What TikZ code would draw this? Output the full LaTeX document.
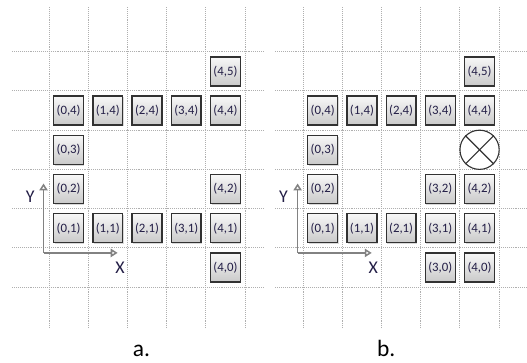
\documentclass[tikz,border=0pt]{standalone}
\usepackage{fontspec}
\setmainfont{Carlito}
\usepackage{xcolor}
\usepackage{tikz}
\usetikzlibrary{arrows.meta,shadows}

\definecolor{cellborder}{RGB}{50,50,50}
\definecolor{celltext}{RGB}{35,30,70}
\definecolor{axisgray}{RGB}{130,130,130}
\definecolor{gridgray}{RGB}{175,175,175}

\begin{document}
\begin{tikzpicture}[
    cell/.style={
        rectangle,
        draw=cellborder,
        line width=1pt,
        top color=gray!6,
        bottom color=gray!42,
        minimum width=0.76cm,
        minimum height=0.74cm,
        inner sep=0pt,
        drop shadow={opacity=0.3, shadow xshift=0.7pt, shadow yshift=-0.9pt},
        font=\fontsize{9.3}{11}\selectfont,
        text=celltext
    },
    blocked/.style={
        circle,
        draw=cellborder,
        line width=0.8pt,
        minimum size=1cm,
        inner sep=0pt
    },
    gridline/.style={
        gridgray,
        line width=0.7pt,
        dash pattern=on 0.7pt off 0.7pt
    },
    axis/.style={
        -{Triangle[open, length=5pt, width=6pt]},
        axisgray,
        line width=1.1pt
    },
    axislabel/.style={
        font=\fontsize{13}{15}\selectfont,
        text=celltext,
        inner sep=0pt
    },
    caption/.style={
        font=\fontsize{17}{20}\selectfont,
        inner sep=0pt,
        anchor=base
    }
]

\useasboundingbox (-1.25,-1.913) rectangle (12.19,7.32);

% Grid a
\foreach \x in {0,...,5} \draw[gridline] (\x,-1.05) -- (\x,7.14);
\foreach \y in {0,...,6} \draw[gridline] (-0.94,\y) -- (5.46,\y);

% Axes a
\coordinate (aorig) at (-0.14,0.87);
\coordinate (ayend) at (-0.14,2.64);
\coordinate (axend) at (1.75,0.87);
\draw[axis] (aorig) -- (ayend);
\draw[axis] (aorig) -- (axend);
\node[axislabel] (aylabel) at (-0.48,2.30) {Y};
\node[axislabel] (axlabel) at (1.81,0.48) {X};

% Cells a
\node[cell] (a45) at (4.5,5.5) {(4,5)};
\node[cell] (a04) at (0.5,4.5) {(0,4)};
\node[cell] (a14) at (1.5,4.5) {(1,4)};
\node[cell] (a24) at (2.5,4.5) {(2,4)};
\node[cell] (a34) at (3.5,4.5) {(3,4)};
\node[cell] (a44) at (4.5,4.5) {(4,4)};
\node[cell] (a03) at (0.5,3.5) {(0,3)};
\node[cell] (a02) at (0.5,2.5) {(0,2)};
\node[cell] (a42) at (4.5,2.5) {(4,2)};
\node[cell] (a01) at (0.5,1.5) {(0,1)};
\node[cell] (a11) at (1.5,1.5) {(1,1)};
\node[cell] (a21) at (2.5,1.5) {(2,1)};
\node[cell] (a31) at (3.5,1.5) {(3,1)};
\node[cell] (a41) at (4.5,1.5) {(4,1)};
\node[cell] (a40) at (4.5,0.5) {(4,0)};

\node[caption] (acap) at (2.36,-1.78) {a.};

\begin{scope}[xshift=6.48cm]
% Grid b
\foreach \x in {0,...,5} \draw[gridline] (\x,-1.05) -- (\x,7.14);
\foreach \y in {0,...,6} \draw[gridline] (-0.71,\y) -- (5.8,\y);

% Axes b
\coordinate (borig) at (-0.14,0.87);
\coordinate (byend) at (-0.14,2.64);
\coordinate (bxend) at (1.75,0.87);
\draw[axis] (borig) -- (byend);
\draw[axis] (borig) -- (bxend);
\node[axislabel] (bylabel) at (-0.5,2.30) {Y};
\node[axislabel] (bxlabel) at (1.79,0.48) {X};

% Cells b
\node[cell] (b45) at (4.5,5.5) {(4,5)};
\node[cell] (b04) at (0.5,4.5) {(0,4)};
\node[cell] (b14) at (1.5,4.5) {(1,4)};
\node[cell] (b24) at (2.5,4.5) {(2,4)};
\node[cell] (b34) at (3.5,4.5) {(3,4)};
\node[cell] (b44) at (4.5,4.5) {(4,4)};
\node[cell] (b03) at (0.5,3.5) {(0,3)};
\node[blocked] (b43) at (4.5,3.5) {};
\node[cell] (b02) at (0.5,2.5) {(0,2)};
\node[cell] (b32) at (3.5,2.5) {(3,2)};
\node[cell] (b42) at (4.5,2.5) {(4,2)};
\node[cell] (b01) at (0.5,1.5) {(0,1)};
\node[cell] (b11) at (1.5,1.5) {(1,1)};
\node[cell] (b21) at (2.5,1.5) {(2,1)};
\node[cell] (b31) at (3.5,1.5) {(3,1)};
\node[cell] (b41) at (4.5,1.5) {(4,1)};
\node[cell] (b30) at (3.5,0.5) {(3,0)};
\node[cell] (b40) at (4.5,0.5) {(4,0)};

% Cross in blocked cell
\draw[cellborder, line width=0.8pt] (b43.north west) -- (b43.south east);
\draw[cellborder, line width=0.8pt] (b43.north east) -- (b43.south west);

\node[caption] (bcap) at (2.12,-1.78) {b.};
\end{scope}

\end{tikzpicture}
\end{document}
